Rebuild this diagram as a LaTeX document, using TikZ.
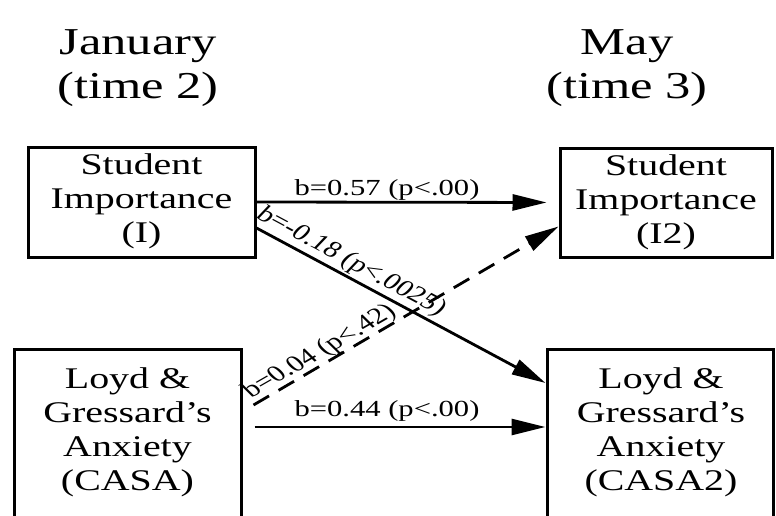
\documentclass[tikz,border=0pt]{standalone}
\usepackage{fontspec}
\setmainfont{Liberation Serif}
\usepackage{graphicx}
\usetikzlibrary{arrows.meta}
% wide, slightly stretched lettering used throughout the figure
\newcommand\wide[1]{\scalebox{1.33}[1]{#1}}
\newcommand\lines[1]{\begin{tabular}{@{}c@{}}#1\end{tabular}}
\newcommand\slant[2]{\scalebox{1.33}[1]{\rotatebox{#1}{#2}}}

\begin{document}
\begin{tikzpicture}[x=1pt,y=-1pt,
  box/.style={draw, line width=3pt, inner sep=0pt, font=\fontsize{30}{34}\selectfont},
  boxlabel/.style={inner sep=0pt, font=\fontsize{30}{34}\selectfont},
  heading/.style={inner sep=0pt, font=\fontsize{38}{44}\selectfont},
  coef/.style={inner sep=0pt, font=\fontsize{23}{26}\selectfont},
  link/.style={line width=2.8pt, -{Triangle[length=34pt,width=16pt]}},
  weak/.style={link, dash pattern=on 18pt off 11pt},
]
\fill[white] (0,0) rectangle (776,516);
\useasboundingbox (0,0) rectangle (776,516);

% time headings
\node[heading] (jan) at (138,68) {\wide{\lines{January\\(time 2)}}};
\node[heading] (may) at (627,68) {\wide{\lines{May\\(time 3)}}};

% measures at time 2 (left) and time 3 (right)
\node[box, minimum width=227pt, minimum height=110pt] (I) at (141.5,202)
  {\wide{\lines{Student\\Importance\\(I)}}};
\node[box, minimum width=212pt, minimum height=109pt] (I2) at (666,202.5)
  {\wide{\lines{Student\\Importance\\(I2)}}};
\node[box, minimum width=227pt, minimum height=200pt, anchor=north] (casa) at (127.5,348) {};
\node[box, minimum width=226pt, minimum height=200pt, anchor=north] (casa2) at (660,348) {};
\node[boxlabel] (casatext) at (127.5,433) {\wide{\lines{Loyd \&\\Gressard’s\\Anxiety\\(CASA)}}};
\node[boxlabel] (casa2text) at (661,433) {\wide{\lines{Loyd \&\\Gressard’s\\Anxiety\\(CASA2)}}};

% paths between the measures
\draw[link, shorten >=12pt] (I.east) -- (I2.west);
\draw[link] ([yshift=-26pt]I.east) -- ([yshift=-35pt]casa2.north west);
\draw[weak] ([xshift=11pt,yshift=-57pt]casa.north east) -- ([yshift=-80pt]I2.north west);
\draw[link] ([xshift=12pt,yshift=-79pt]casa.north east) -- ([yshift=-79pt]casa2.north west);

% path coefficients
\node[coef] (c1) at (387,189.5) {\wide{b=0.57 (p<.00)}};
\node[coef] (c2) at (387,411) {\wide{b=0.44 (p<.00)}};
\node[coef] (c3) at (351,262) {\slant{-35.5}{b=-0.18 (p<.0025)}};
\node[coef] (c4) at (320,352) {\slant{37.4}{b=0.04 (p<.42)}};
\end{tikzpicture}
\end{document}
